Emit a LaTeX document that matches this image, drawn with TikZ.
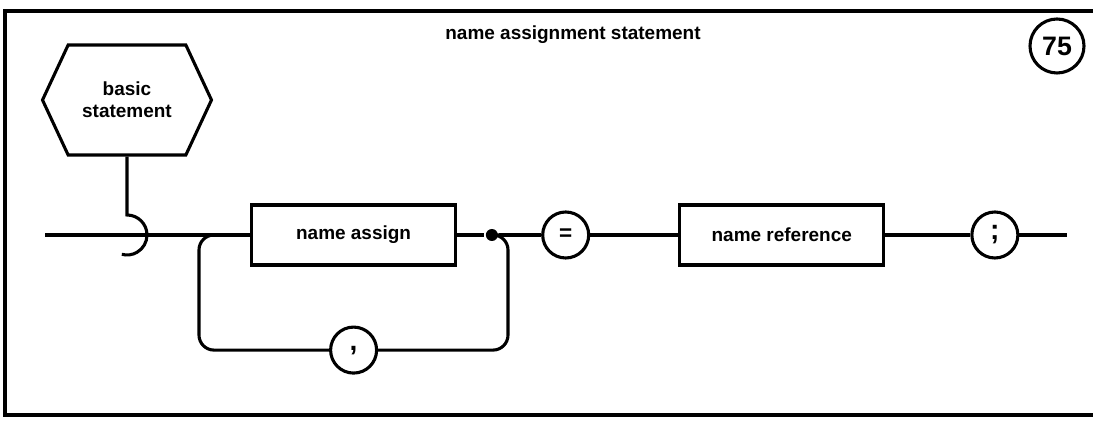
\documentclass[tikz,border=0pt]{standalone}
\usepackage{fontspec}
\setmainfont{Liberation Sans}
\usetikzlibrary{positioning, shapes.symbols, calc}

\begin{document}
\begin{tikzpicture}[
  line width=2.2pt,
  lbl/.style={font=\fontsize{13.5}{15.5}\selectfont\bfseries},
  ntbox/.style={draw, lbl, minimum width=5.1cm, minimum height=1.5cm, inner sep=2pt},
  termbox/.style={draw, circle, fill=white, font=\fontsize{20}{20}\selectfont\bfseries, minimum size=1.15cm, inner sep=0pt},
  hexbox/.style={draw, signal, signal to=west and east, signal pointer angle=130, lbl, align=center, minimum width=4.225cm, minimum height=2.75cm},
  junction/.style={circle, fill, inner sep=0pt, minimum size=0.3cm},
]
\useasboundingbox (0,0) rectangle (27.325,10.575);
% frame
\draw (27.325,10.3) -- (0.125,10.3) -- (0.125,0.2) -- (27.325,0.2);

\node[lbl] (title) at (14.325,9.7) {name assignment statement};
\node[termbox, minimum size=1.35cm, font=\fontsize{19}{19}\selectfont\bfseries] (pgno) at (26.425,9.425) {75};

\node[hexbox] (basic) at (3.175,8.075) {basic\\statement};

\node[ntbox] (assign) at (8.84,4.7) {name assign};
\node[junction, right=0.68cm of assign] (dot) {};
\node[termbox, right=2.1cm of assign, font=\fontsize{16}{16}\selectfont\bfseries] (eq) {=};
\node[ntbox, right=2.2cm of eq] (ref) {name reference};
\node[termbox, right=2.125cm of ref] (semi) {;};
\node[termbox, below=1.475cm of assign] (comma) {,};

\coordinate (start) at (1.125,4.7);
\coordinate (stop) at (26.675,4.7);
\coordinate (hook) at (basic.south |- assign.west);
\coordinate (loopl) at (4.975,4.7);
\coordinate (loopr) at (12.7,4.7);

% main line
\draw (start) -- (assign);
\draw (assign) -- (dot) -- (eq) -- (ref) -- (semi) -- (stop);

% entry from basic statement
\draw (basic.south) -- ($(hook)+(0,0.5)$) arc[start angle=90, end angle=-105, radius=0.5cm];

% repeat loop
\draw[rounded corners=0.375cm] (assign.west) -- (loopl) -- (loopl |- comma) -- (comma);
\draw[rounded corners=0.375cm] (dot) -- (loopr) -- (loopr |- comma) -- (comma);
\end{tikzpicture}
\end{document}
